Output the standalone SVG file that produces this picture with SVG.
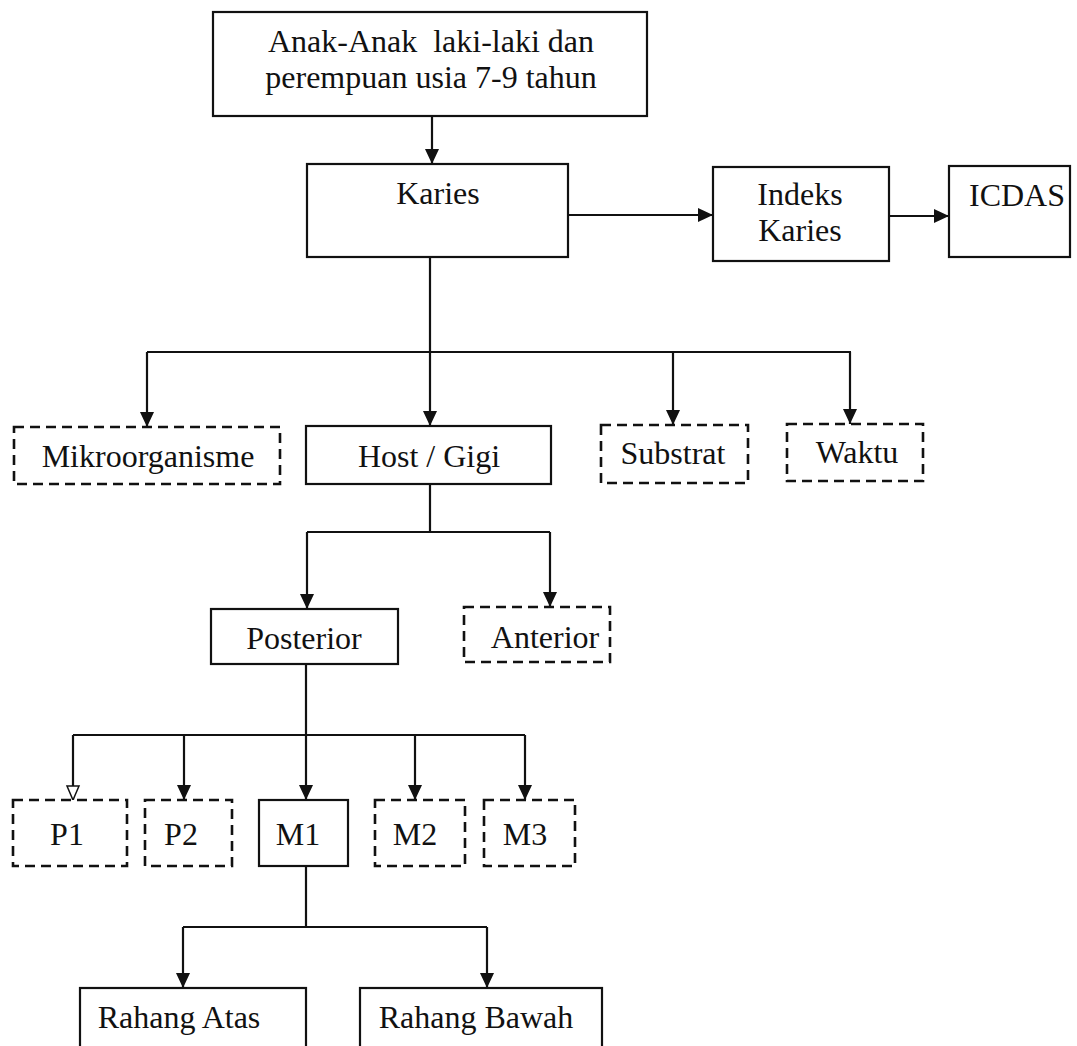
<svg xmlns="http://www.w3.org/2000/svg" width="1077" height="1046" viewBox="0 0 1077 1046">
<style>
.box{fill:#fff;stroke:#111;stroke-width:2.2}
.dash{fill:#fff;stroke:#111;stroke-width:2.6;stroke-dasharray:10 6}
.lbl{font-family:"Liberation Serif","Times New Roman",serif;font-size:32px;fill:#111;text-anchor:middle}
.ln{fill:none;stroke:#111;stroke-width:2.2}
.arr{marker-end:url(#ah)}
.arrh{marker-end:url(#ahh)}
</style>
<defs>
<marker id="ah" markerUnits="userSpaceOnUse" markerWidth="16" markerHeight="16" viewBox="0 0 16 16" refX="15" refY="8" orient="auto">
<path d="M0,1 L15,8 L0,15 Z" fill="#111"/>
</marker>
<marker id="ahh" markerUnits="userSpaceOnUse" markerWidth="16" markerHeight="16" viewBox="0 0 16 16" refX="15" refY="8" orient="auto">
<path d="M1,2 L15,8 L1,14 Z" fill="#fff" stroke="#111" stroke-width="1.5"/>
</marker>
</defs>
<rect width="1077" height="1046" fill="#fff"/>
<g id="connectors">
<path class="ln arr" d="M432,116 V164"/>
<path class="ln arr" d="M568,215 H713"/>
<path class="ln arr" d="M889,216 H949"/>
<path class="ln" d="M430,257 V352 M147,352 H851"/>
<path class="ln arr" d="M147,352 V427"/>
<path class="ln arr" d="M430,352 V426"/>
<path class="ln arr" d="M673,352 V425"/>
<path class="ln arr" d="M850,352 V424"/>
<path class="ln" d="M430,484 V532 M307,532 H550"/>
<path class="ln arr" d="M307,532 V609"/>
<path class="ln arr" d="M550,532 V607"/>
<path class="ln" d="M306,664 V735 M73,735 H525"/>
<path class="ln arrh" d="M73,735 V800"/>
<path class="ln arr" d="M184,735 V800"/>
<path class="ln arr" d="M306,735 V800"/>
<path class="ln arr" d="M415,735 V800"/>
<path class="ln arr" d="M525,735 V800"/>
<path class="ln" d="M306,866 V927 M183,927 H487"/>
<path class="ln arr" d="M183,927 V988"/>
<path class="ln arr" d="M487,927 V988"/>
</g>
<g id="n-anak"><rect class="box" x="213" y="12" width="434" height="104"/><text class="lbl" x="431" y="52" xml:space="preserve">Anak-Anak  laki-laki dan</text><text class="lbl" x="431" y="88">perempuan usia 7-9 tahun</text></g>
<g id="n-karies"><rect class="box" x="307" y="164" width="261" height="93"/><text class="lbl" x="438" y="204">Karies</text></g>
<g id="n-indeks"><rect class="box" x="713" y="167" width="176" height="94"/><text class="lbl" x="800" y="205">Indeks</text><text class="lbl" x="800" y="241">Karies</text></g>
<g id="n-icdas"><rect class="box" x="949" y="166" width="121" height="91"/><text class="lbl" x="1017" y="206">ICDAS</text></g>
<g id="n-mikro"><rect class="dash" x="14" y="427" width="266" height="57"/><text class="lbl" x="148" y="467">Mikroorganisme</text></g>
<g id="n-host"><rect class="box" x="306" y="426" width="245" height="58"/><text class="lbl" x="429" y="467">Host / Gigi</text></g>
<g id="n-substrat"><rect class="dash" x="601" y="425" width="147" height="58"/><text class="lbl" x="673" y="464">Substrat</text></g>
<g id="n-waktu"><rect class="dash" x="787" y="424" width="136" height="57"/><text class="lbl" x="857" y="463">Waktu</text></g>
<g id="n-posterior"><rect class="box" x="211" y="609" width="187" height="55"/><text class="lbl" x="304" y="649">Posterior</text></g>
<g id="n-anterior"><rect class="dash" x="464" y="607" width="146" height="55"/><text class="lbl" x="545" y="648">Anterior</text></g>
<g id="n-p1"><rect class="dash" x="13" y="800" width="114" height="66"/><text class="lbl" x="67" y="845">P1</text></g>
<g id="n-p2"><rect class="dash" x="145" y="800" width="87" height="66"/><text class="lbl" x="181" y="845">P2</text></g>
<g id="n-m1"><rect class="box" x="259" y="800" width="89" height="66"/><text class="lbl" x="298" y="845">M1</text></g>
<g id="n-m2"><rect class="dash" x="375" y="800" width="90" height="66"/><text class="lbl" x="415" y="845">M2</text></g>
<g id="n-m3"><rect class="dash" x="484" y="800" width="91" height="66"/><text class="lbl" x="525" y="845">M3</text></g>
<g id="n-atas"><rect class="box" x="80" y="988" width="226" height="80"/><text class="lbl" x="179" y="1028">Rahang Atas</text></g>
<g id="n-bawah"><rect class="box" x="360" y="988" width="242" height="80"/><text class="lbl" x="476" y="1028">Rahang Bawah</text></g>
</svg>
